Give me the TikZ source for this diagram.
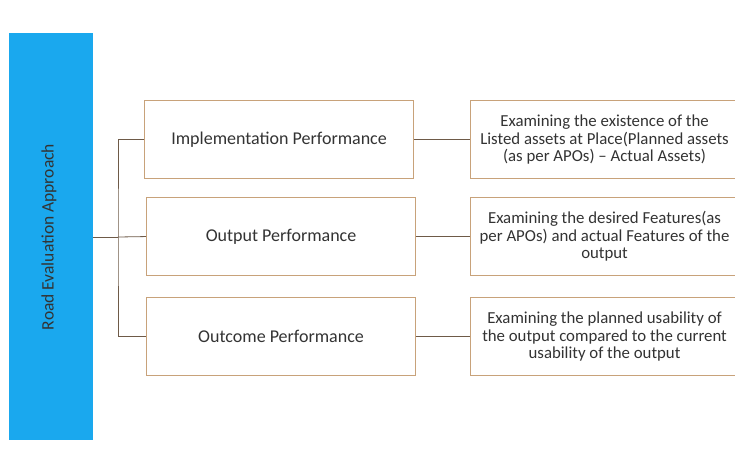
\documentclass[tikz,border=0pt]{standalone}
\usepackage{fontspec}
\setmainfont{Carlito}
\definecolor{bluebar}{HTML}{1AA8EE}
\definecolor{boxline}{HTML}{C8A27A}
\definecolor{conn}{HTML}{6E5A48}
\definecolor{txt}{HTML}{333333}
\begin{document}
\begin{tikzpicture}[x=1pt,y=-1pt,
  midbox/.style={draw=boxline,line width=1.1pt,fill=white,minimum width=269pt,minimum height=78pt,anchor=north west,inner sep=0pt,text=txt,font=\fontsize{18}{18}\selectfont},
  rbox/.style={draw=boxline,line width=1.1pt,fill=white,minimum width=268pt,minimum height=78pt,anchor=north west,inner sep=0pt,align=center,text=txt,font=\fontsize{16.8}{17.5}\selectfont},
  link/.style={draw=conn,line width=0.8pt}]
\useasboundingbox (0,0) rectangle (735,451);
\clip (0,0) rectangle (735,451);
\fill[white] (0,0) rectangle (735,451);
\node[fill=bluebar,minimum width=84pt,minimum height=407pt,anchor=north west,inner sep=0pt] (bar) at (9,33) {};
\node[rotate=90,text=txt,font=\fontsize{17.5}{18}\selectfont] (bartxt) at (49,237) {Road Evaluation Approach};
\node[midbox] (m1) at (144,100) {Implementation Performance};
\node[midbox] (m2) at (146,197) {Output Performance};
\node[midbox] (m3) at (146,297) {Outcome Performance};
\node[rbox] (r1) at (470,100) {Examining the existence of the\\Listed assets at Place(Planned assets\\(as per APOs) -- Actual Assets)};
\node[rbox] (r2) at (470,197) {Examining the desired Features(as\\per APOs) and actual Features of the\\output};
\node[rbox] (r3) at (470,297) {Examining the planned usability of\\the output compared to the current\\usability of the output};
\coordinate (j) at (118,237);
\draw[link] (bar.east |- j) -- (j);
\draw[link] (m1.west) -| (j) |- (m3.west);
\draw[link] (j) -- (m2.west);
\draw[link] (m1.east) -- (r1.west |- m1.east);
\draw[link] (m2.east) -- (r2.west |- m2.east);
\draw[link] (m3.east) -- (r3.west |- m3.east);
\end{tikzpicture}
\end{document}
